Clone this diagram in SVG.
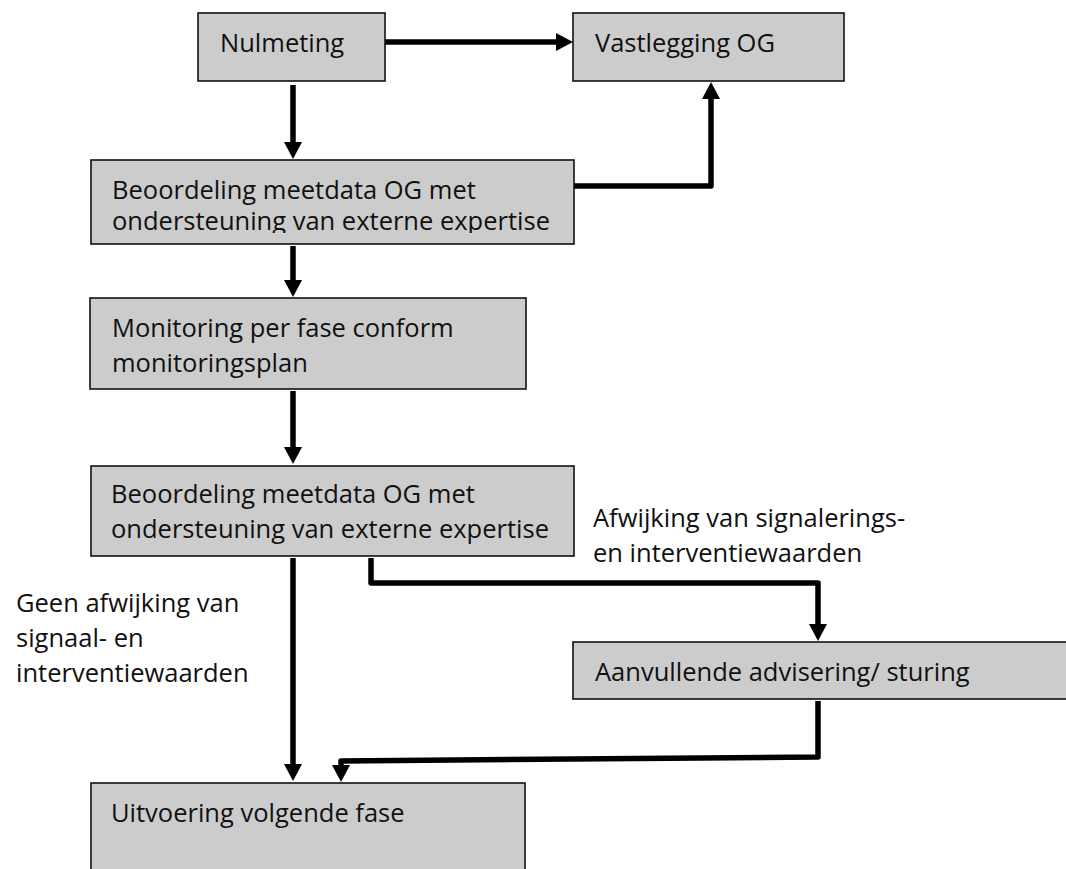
<svg xmlns="http://www.w3.org/2000/svg" width="1066" height="869" viewBox="0 0 1066 869">
<style>
.box{fill:#cccccc;stroke:#111111;stroke-width:1.6}
.t{font-family:"Open Sans","Liberation Sans",sans-serif;font-size:25.5px;fill:#111111}
.c{fill:none;stroke:#000000;stroke-width:5.5;stroke-linejoin:round}
</style>
<defs>
<marker id="ah" markerUnits="userSpaceOnUse" markerWidth="17" markerHeight="18" refX="0" refY="9" orient="auto">
<path d="M0,0 L17,9 L0,18 z" fill="#000000"/>
</marker>
<clipPath id="clip2"><rect x="91" y="160" width="483" height="73"/></clipPath>
</defs>
<rect width="1066" height="869" fill="#ffffff"/>
<g id="connectors">
<path class="c" d="M385,42 H556" marker-end="url(#ah)"/>
<path class="c" d="M293,85 V142" marker-end="url(#ah)"/>
<path class="c" d="M574,186 H711 V99" marker-end="url(#ah)"/>
<path class="c" d="M293,246 V280" marker-end="url(#ah)"/>
<path class="c" d="M293,391 V447" marker-end="url(#ah)"/>
<path class="c" d="M293,558 V764" marker-end="url(#ah)"/>
<path class="c" d="M371,558 V583 H818 V624" marker-end="url(#ah)"/>
<path class="c" d="M818,701 V757 L341,761 V765" marker-end="url(#ah)"/>
</g>
<g id="nulmeting">
<rect class="box" x="198" y="13" width="187" height="68"/>
<text class="t" x="220" y="52">Nulmeting</text>
</g>
<g id="vastlegging">
<rect class="box" x="573" y="13" width="271" height="68"/>
<text class="t" x="595" y="52">Vastlegging OG</text>
</g>
<g id="beoordeling1">
<rect class="box" x="91" y="160" width="483" height="84"/>
<g clip-path="url(#clip2)">
<text class="t" x="112" y="199">Beoordeling meetdata OG met</text>
<text class="t" x="112" y="230">ondersteuning van externe expertise</text>
</g>
</g>
<g id="monitoring">
<rect class="box" x="90" y="298" width="436" height="91"/>
<text class="t" x="112" y="337">Monitoring per fase conform</text>
<text class="t" x="112" y="372">monitoringsplan</text>
</g>
<g id="beoordeling2">
<rect class="box" x="91" y="466" width="483" height="90"/>
<text class="t" x="111" y="503">Beoordeling meetdata OG met</text>
<text class="t" x="111" y="538">ondersteuning van externe expertise</text>
</g>
<g id="aanvullende">
<rect class="box" x="573" y="642" width="500" height="57"/>
<text class="t" x="595" y="681">Aanvullende advisering/ sturing</text>
</g>
<g id="uitvoering">
<rect class="box" x="91" y="783" width="434" height="100"/>
<text class="t" x="111" y="822">Uitvoering volgende fase</text>
</g>
<g id="labels">
<text class="t" x="16" y="612">Geen afwijking van</text>
<text class="t" x="16" y="647">signaal- en</text>
<text class="t" x="16" y="682">interventiewaarden</text>
<text class="t" x="593" y="527">Afwijking van signalerings-</text>
<text class="t" x="593" y="562">en interventiewaarden</text>
</g>
</svg>
